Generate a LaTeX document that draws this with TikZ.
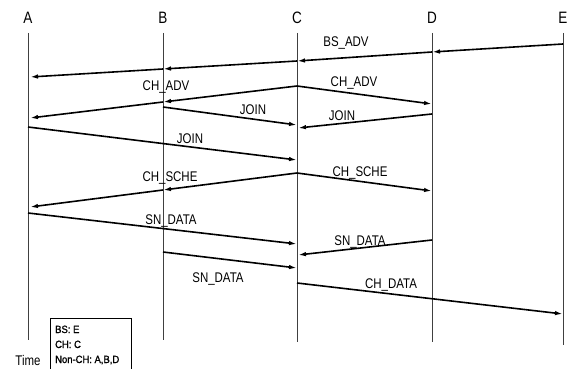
\documentclass[tikz,border=0pt]{standalone}
\usepackage{fontspec}
\setmainfont{Liberation Sans}[FakeStretch=0.82]
\newfontfamily\legfont{Liberation Sans}[FakeStretch=0.9,FakeBold=1.2]
\usetikzlibrary{arrows.meta}

\tikzset{
  life/.style={draw=black!75, line width=0.8pt},
  msg/.style={line width=1.6pt, -{Latex[length=8pt,width=4.5pt]}},
  lbl/.style={font=\fontsize{14}{16}\selectfont, inner sep=0pt, anchor=base},
  proc/.style={font=\fontsize{16.5}{18}\selectfont, inner sep=0pt, anchor=base},
  legtxt/.style={font=\legfont\fontsize{10.5}{12}\selectfont, inner sep=0pt, anchor=base west}
}

\begin{document}
\begin{tikzpicture}[x=1pt,y=-1pt]
\useasboundingbox (0,0) rectangle (584,369);
\clip (0,0) rectangle (584,369);

% Lifelines
\foreach \n/\x/\b in {A/28/340,B/163/340,C/297/342,D/432/342,E/563/345}{
  \node[proc] (\n) at (\x,24) {\n};
  \coordinate (\n bot) at (\x,\b);
  \draw[life] ([yshift=-9pt]\n.base) -- (\n bot);
}

% BS_ADV
\coordinate (bsE) at (563,44);
\coordinate (bsD) at (432,52);
\coordinate (bsC) at (297,61);
\coordinate (bsB) at (163,69);
\coordinate (bsA) at (30,77);
\draw[msg] (bsE) -- (bsD);
\draw[msg] (bsD) -- (bsC);
\draw[msg] (bsC) -- (bsB);
\draw[msg] (bsB) -- (bsA);
\node[lbl] (bsadv) at (346,47) {BS\_ADV};

% CH_ADV
\coordinate (chC) at (297,86);
\coordinate (chB) at (163,102);
\coordinate (chA) at (30,118);
\coordinate (chD) at (432,104);
\draw[msg] (chC) -- (chB);
\draw[msg] (chB) -- (chA);
\draw[msg] (chC) -- (chD);
\node[lbl] (chadv1) at (166,91) {CH\_ADV};
\node[lbl] (chadv2) at (354,86) {CH\_ADV};

% JOIN
\coordinate (jnB) at (163,107);
\coordinate (jnC1) at (297,125);
\coordinate (jnD) at (432,114);
\coordinate (jnC2) at (298,128);
\coordinate (jnA) at (28,127);
\coordinate (jnC3) at (297,160);
\draw[msg] (jnB) -- (jnC1);
\draw[msg] (jnD) -- (jnC2);
\draw[msg] (jnA) -- (jnC3);
\node[lbl] (join1) at (253,114) {JOIN};
\node[lbl] (join2) at (342,121) {JOIN};
\node[lbl] (join3) at (190,143) {JOIN};

% CH_SCHE
\coordinate (scC) at (297,173);
\coordinate (scB) at (163,190);
\coordinate (scA) at (30,207);
\coordinate (scD) at (432,191);
\draw[msg] (scC) -- (scB);
\draw[msg] (scB) -- (scA);
\draw[msg] (scC) -- (scD);
\node[lbl] (chsche1) at (170,181) {CH\_SCHE};
\node[lbl] (chsche2) at (360,176) {CH\_SCHE};

% SN_DATA
\coordinate (sdA) at (28,213);
\coordinate (sdC1) at (297,244);
\coordinate (sdD) at (432,240);
\coordinate (sdC2) at (298,255);
\coordinate (sdB) at (163,252);
\coordinate (sdC3) at (297,268);
\draw[msg] (sdA) -- (sdC1);
\draw[msg] (sdD) -- (sdC2);
\draw[msg] (sdB) -- (sdC3);
\node[lbl] (sndata1) at (171,224) {SN\_DATA};
\node[lbl] (sndata2) at (360,245) {SN\_DATA};
\node[lbl] (sndata3) at (218,282) {SN\_DATA};

% CH_DATA
\coordinate (cdC) at (297,283);
\coordinate (cdE) at (563,314);
\draw[msg] (cdC) -- (cdE);
\node[lbl] (chdata) at (391,288) {CH\_DATA};

% Legend
\node[draw, line width=0.6pt, minimum width=81pt, minimum height=60pt, inner sep=0pt, anchor=north west] (legend) at (50,318) {};
\node[legtxt] (bs) at (55,333) {BS: E};
\node[legtxt] (ch) at (55,348) {CH: C};
\node[legtxt] (nonch) at (55,363) {Non-CH: A,B,D};
\node[font=\fontsize{14}{16}\selectfont, inner sep=0pt, anchor=base] (time) at (28,365) {Time};
\end{tikzpicture}
\end{document}
